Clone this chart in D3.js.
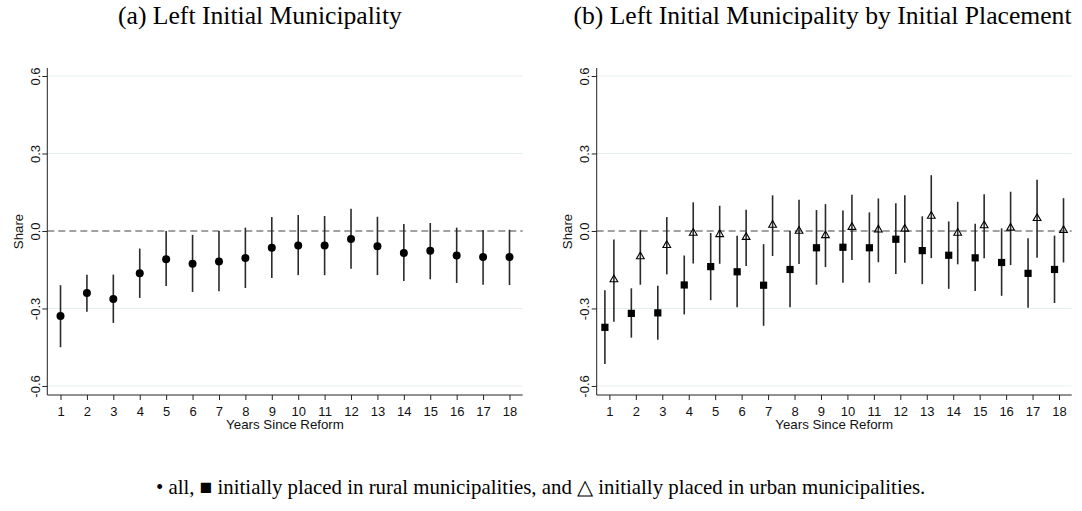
<!DOCTYPE html>
<html><head><meta charset="utf-8">
<script src="https://cdn.jsdelivr.net/npm/d3@7"></script>
<style>
html,body{margin:0;padding:0;background:#fff;}
svg{display:block;}
</style></head>
<body>
<svg id="chart" width="1082" height="511"></svg>
<script>
const years = [1,2,3,4,5,6,7,8,9,10,11,12,13,14,15,16,17,18];
const yTickValues = [-0.6,-0.3,0.0,0.3,0.6];
const yTickLabels = ["-0.6","-0.3","0.0","0.3","0.6"];

// Panel (a): all
const allEst = [-0.329,-0.240,-0.263,-0.164,-0.109,-0.127,-0.118,-0.105,-0.065,-0.056,-0.056,-0.031,-0.059,-0.085,-0.077,-0.095,-0.101,-0.101];
const allLo  = [-0.450,-0.313,-0.356,-0.259,-0.213,-0.236,-0.233,-0.221,-0.182,-0.171,-0.171,-0.146,-0.171,-0.194,-0.187,-0.201,-0.208,-0.209];
const allHi  = [-0.210,-0.169,-0.169,-0.068,0.000,-0.015,0.000,0.013,0.054,0.062,0.058,0.086,0.055,0.027,0.031,0.013,0.004,0.005];

// Panel (b): rural (squares) and urban (triangles)
const ruralEst = [-0.373,-0.319,-0.317,-0.209,-0.138,-0.158,-0.210,-0.149,-0.065,-0.063,-0.065,-0.032,-0.076,-0.094,-0.104,-0.122,-0.164,-0.149];
const ruralLo  = [-0.515,-0.413,-0.421,-0.323,-0.268,-0.295,-0.367,-0.295,-0.208,-0.200,-0.200,-0.167,-0.206,-0.224,-0.232,-0.251,-0.297,-0.279];
const ruralHi  = [-0.229,-0.222,-0.212,-0.095,-0.008,-0.018,-0.051,0.000,0.081,0.079,0.072,0.107,0.057,0.037,0.028,0.010,-0.028,-0.018];

const urbanEst = [-0.188,-0.099,-0.055,-0.008,-0.013,-0.024,0.023,0.000,-0.017,0.015,0.005,0.008,0.058,-0.008,0.021,0.012,0.049,0.003];
const urbanLo  = [-0.351,-0.208,-0.168,-0.126,-0.127,-0.136,-0.097,-0.128,-0.140,-0.112,-0.121,-0.123,-0.105,-0.129,-0.106,-0.132,-0.104,-0.122];
const urbanHi  = [-0.033,0.004,0.054,0.111,0.098,0.082,0.138,0.121,0.104,0.140,0.126,0.138,0.216,0.113,0.142,0.152,0.198,0.127];

const titleA = "(a) Left Initial Municipality";
const titleB = "(b) Left Initial Municipality by Initial Placement";
const footer = "\u2022 all, \u25A0 initially placed in rural municipalities, and \u25B3 initially placed in urban municipalities.";
const xLabel = "Years Since Reform";
const yLabel = "Share";

const svg = d3.select("#chart");
const serif = "'Liberation Serif','Times New Roman',Times,serif";
const sans = "'Liberation Sans',Arial,Helvetica,sans-serif";

const yTop = 68, yBot = 395;
const y = d3.scaleLinear().domain([-0.635, 0.631]).range([yBot, yTop]);

function panel(x0, x1, xDomain, series) {
  const x = d3.scaleLinear().domain(xDomain).range([x0, x1]);
  const g = svg.append("g");
  // gridlines
  g.selectAll("line.grid").data(yTickValues.filter(v => v !== 0)).enter()
    .append("line")
    .attr("x1", x0).attr("x2", x1)
    .attr("y1", d => y(d)).attr("y2", d => y(d))
    .attr("stroke", "#e6eff0").attr("stroke-width", 1);
  // zero dashed line
  g.append("line").attr("x1", x0).attr("x2", x1)
    .attr("y1", y(0)).attr("y2", y(0))
    .attr("stroke", "#444").attr("stroke-width", 1.1)
    .attr("stroke-dasharray", "7,4");

  // y axis
  const yAx = d3.axisLeft(y).tickValues(yTickValues)
    .tickFormat((d, i) => yTickLabels[i]).tickSize(5).tickSizeOuter(0);
  const ya = g.append("g").attr("transform", `translate(${x0},0)`).call(yAx);
  ya.select(".domain").attr("d", `M0,${yTop}V${yBot}`).attr("stroke", "#222");
  ya.selectAll(".tick line").attr("stroke", "#222");
  ya.selectAll(".tick text")
    .attr("font-family", sans).attr("font-size", 13).attr("fill", "#111")
    .attr("transform", "rotate(-90)")
    .attr("x", 0).attr("y", -7.5).attr("dy", 0)
    .attr("text-anchor", "middle");

  // x axis
  const xAx = d3.axisBottom(x).tickValues(years).tickFormat(d3.format("d"))
    .tickSize(5).tickSizeOuter(0);
  const xa = g.append("g").attr("transform", `translate(0,${yBot})`).call(xAx);
  xa.select(".domain").attr("d", `M${x0},0H${x1}`).attr("stroke", "#222");
  xa.selectAll(".tick line").attr("stroke", "#222");
  xa.selectAll(".tick text")
    .attr("font-family", sans).attr("font-size", 13).attr("fill", "#111")
    .attr("y", 21).attr("dy", 0);

  // axis titles
  g.append("text").attr("x", (x0 + x1) / 2).attr("y", 429)
    .attr("text-anchor", "middle").attr("font-family", sans).attr("font-size", 13.3)
    .attr("fill", "#111").text(xLabel);
  g.append("text")
    .attr("transform", `translate(${x0 - 24.5},${(yTop + yBot) / 2}) rotate(-90)`)
    .attr("text-anchor", "middle").attr("font-family", sans).attr("font-size", 13.3)
    .attr("fill", "#111").text(yLabel);

  series.forEach(s => {
    const data = years.map((yr, i) => ({ x: yr + s.offset, est: s.est[i], lo: s.lo[i], hi: s.hi[i] }));
    g.selectAll(null).data(data).enter().append("line")
      .attr("x1", d => x(d.x)).attr("x2", d => x(d.x))
      .attr("y1", d => y(d.lo)).attr("y2", d => y(d.hi))
      .attr("stroke", "#2a2a2a").attr("stroke-width", 1.6);
    if (s.shape === "circle") {
      g.selectAll(null).data(data).enter().append("circle")
        .attr("cx", d => x(d.x)).attr("cy", d => y(d.est)).attr("r", 4)
        .attr("fill", "#000");
    } else if (s.shape === "square") {
      const h = 3.6;
      g.selectAll(null).data(data).enter().append("rect")
        .attr("x", d => x(d.x) - h).attr("y", d => y(d.est) - h)
        .attr("width", 2 * h).attr("height", 2 * h).attr("fill", "#000");
    } else {
      const sym = d3.symbol().type(d3.symbolTriangle).size(26);
      g.selectAll(null).data(data).enter().append("path")
        .attr("d", sym)
        .attr("transform", d => `translate(${x(d.x)},${y(d.est)})`)
        .attr("fill", "none").attr("stroke", "#000").attr("stroke-width", 1.1);
    }
  });
}

panel(47.3, 522.7, [0.5, 18.5], [
  { est: allEst, lo: allLo, hi: allHi, offset: 0, shape: "circle" }
]);
panel(596.7, 1071.7, [0.52, 18.48], [
  { est: ruralEst, lo: ruralLo, hi: ruralHi, offset: -0.17, shape: "square" },
  { est: urbanEst, lo: urbanLo, hi: urbanHi, offset: 0.17, shape: "triangle" }
]);

// titles, fitted to measured widths
function fitText(txt, size, anchorX, anchor, baseline, targetW) {
  const t = svg.append("text").attr("font-family", serif).attr("font-size", size)
    .attr("fill", "#000").attr("x", anchorX).attr("y", baseline)
    .attr("text-anchor", anchor).text(txt);
  const w = t.node().getComputedTextLength();
  const fs = size * targetW / w;
  t.attr("font-size", fs);
  return fs;
}
const fsA = fitText(titleA, 24, 118, "start", 24, 284);
svg.append("text").attr("font-family", serif).attr("font-size", fsA)
  .attr("fill", "#000").attr("x", 1071.5).attr("y", 24)
  .attr("text-anchor", "end").text(titleB);
fitText(footer, 18, 156, "start", 494, 770);
</script>
</body></html>
